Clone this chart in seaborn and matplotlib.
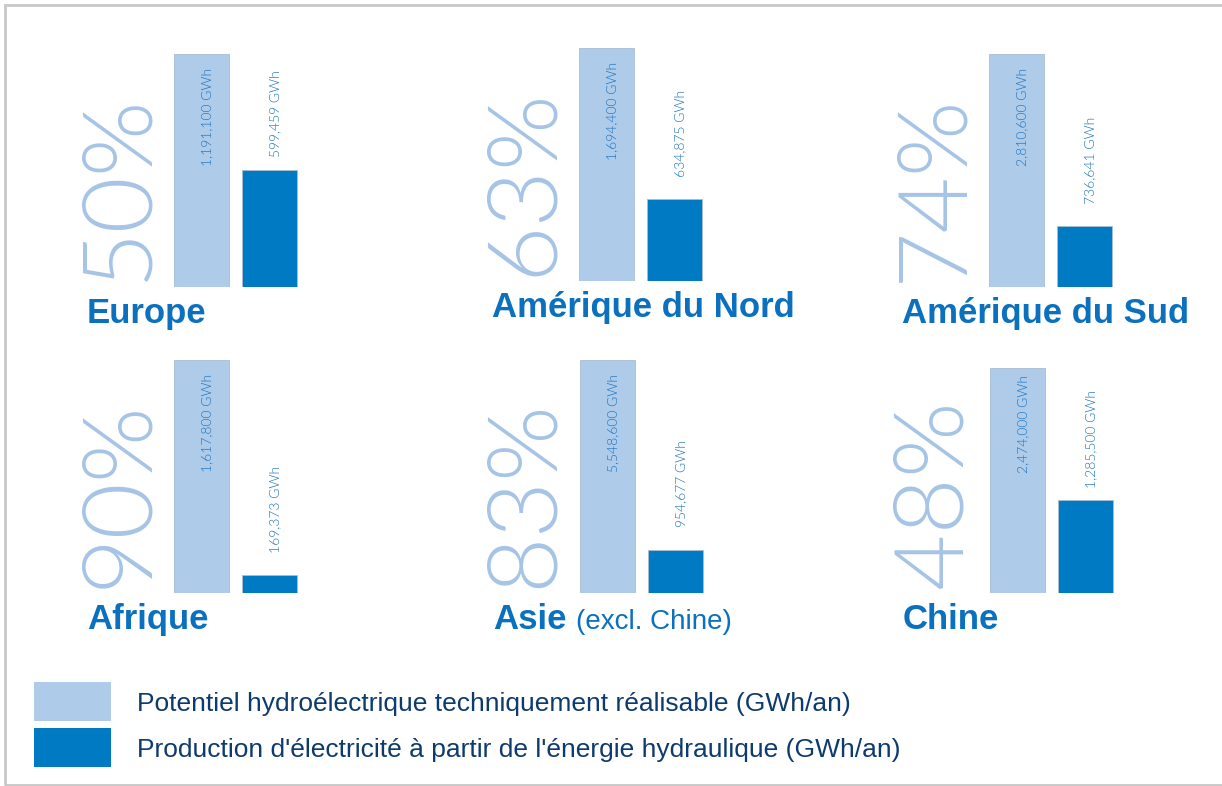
import matplotlib.pyplot as plt
import matplotlib.patches as mpatches
import seaborn as sns

# data
regions = ["Europe", "Amérique du Nord", "Amérique du Sud", "Afrique", "Asie", "Chine"]
region_notes = ["", "", "", "", "(excl. Chine)", ""]
unused_pct = ["50%", "63%", "74%", "90%", "83%", "48%"]
potential_lbl = ["1,191,100 GWh", "1,694,400 GWh", "2,810,600 GWh",
                 "1,617,800 GWh", "5,548,600 GWh", "2,474,000 GWh"]
production_lbl = ["599,459 GWh", "634,875 GWh", "736,641 GWh",
                  "169,373 GWh", "954,677 GWh", "1,285,500 GWh"]
# bar heights as drawn (relative to a full potential bar)
potential_h = [1.0, 1.0, 1.0, 1.0, 1.0, 0.966]
production_h = [0.50, 0.35, 0.26, 0.077, 0.185, 0.40]
legend_labels = ["Potentiel hydroélectrique techniquement réalisable (GWh/an)",
                 "Production d'électricité à partir de l'énergie hydraulique (GWh/an)"]

LIGHT = "#aecbea"
DARK = "#007ac2"
PCT_COL = "#a6c4e6"
TITLE_COL = "#0b70bd"
VAL_COL = "#1f74bd"
LEG_COL = "#0d3b6e"

W, H = 1222, 786
# pixel layout: (left edge of light bar, bottom of bars)
layout = [(174, 287), (579, 281), (989, 287), (174, 593), (580, 593), (990, 593)]
BAR_H = 233
STEP = 68

sns.set_theme(style="white")
plt.rcParams["font.family"] = ["Liberation Sans", "DejaVu Sans"]

fig = plt.figure(figsize=(W / 100, H / 100), dpi=100)
fig.patch.set_facecolor("white")

thin = {"family": ["Lato", "DejaVu Sans"], "weight": 300}

for i, (bx, by) in enumerate(layout):
    left = bx - (STEP - 55) / 2
    ax = fig.add_axes([left / W, 1 - by / H, 2 * STEP / W, BAR_H / H])
    sns.barplot(x=[0, 1], y=[potential_h[i], production_h[i]], hue=[0, 1],
                palette=[LIGHT, DARK], saturation=1, width=55 / STEP, legend=False,
                ax=ax, edgecolor="#a9bccf", linewidth=0.6)
    ax.set_xlim(-0.5, 1.5)
    ax.set_ylim(0, 1)
    ax.axis("off")

    # value labels
    ax.text(0.08, min(0.94, potential_h[i] - 0.03), potential_lbl[i], rotation=90,
            ha="center", va="top", fontsize=10, color=VAL_COL, **thin)
    ax.text(1.08, min(0.93, production_h[i] + 0.47), production_lbl[i],
            rotation=90, ha="center", va="top", fontsize=10, color=VAL_COL, **thin)

    # big percentage
    ax.text(-0.5 - 21.5 / STEP, 0.02, unused_pct[i], rotation=90,
            rotation_mode="anchor", ha="left", va="baseline",
            fontsize=70, color=PCT_COL, transform=ax.transData, **thin)

    # region title
    tx = (bx - 87) / W
    ty = 1 - (by + 36) / H
    t = fig.text(tx, ty, regions[i], fontsize=25, fontweight="bold",
                 color=TITLE_COL, ha="left", va="baseline")
    if region_notes[i]:
        fig.canvas.draw()
        bb = t.get_window_extent()
        fig.text((bb.x1 + 9) / W, ty, region_notes[i], fontsize=20,
                 color=TITLE_COL, ha="left", va="baseline")

# legend
for j, col in enumerate([LIGHT, DARK]):
    y0 = [682, 728][j]
    fig.patches.append(mpatches.Rectangle((34 / W, 1 - (y0 + 39) / H), 77 / W, 39 / H,
                                          transform=fig.transFigure, facecolor=col,
                                          edgecolor="none"))
    fig.text(137 / W, 1 - (y0 + 22) / H, legend_labels[j], fontsize=19,
             color=LEG_COL, ha="left", va="center")

# frame
fig.patches.append(mpatches.Rectangle((5 / W, 1 - 784.5 / H), 1230 / W, 779.5 / H,
                                      transform=fig.transFigure, facecolor="none",
                                      edgecolor="#c8c8c8", linewidth=2))

fig.savefig("out.png", dpi=100, facecolor="white")
